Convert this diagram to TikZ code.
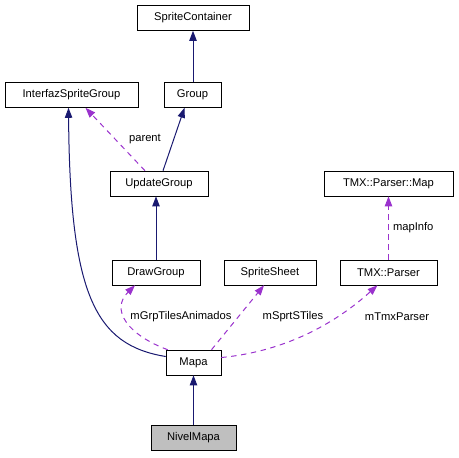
\documentclass[tikz,border=0pt]{standalone}
\usepackage{fontspec}
\setsansfont{Liberation Sans}
\usepackage{tikz}
\usetikzlibrary{arrows.meta,calc}

\definecolor{navyline}{HTML}{191970}
\definecolor{orchid}{HTML}{9A32CD}

\begin{document}
\begin{tikzpicture}[
  x=0.75pt, y=-0.75pt,
  cls/.style={draw, minimum height=18.75pt, inner sep=0pt,
    font=\sffamily\fontsize{8.4}{10}\selectfont},
  cur/.style={cls, fill=black!25},
  inh/.style={-{Triangle[length=7.5pt, width=5.5pt]}, color=navyline, line width=0.75pt},
  use/.style={-{Triangle[length=7.5pt, width=5.5pt]}, color=orchid,
    dash pattern=on 4pt off 3.5pt, line width=0.75pt},
  lbl/.style={font=\sffamily\fontsize{8.4}{10}\selectfont, text=black, inner sep=1pt},
]

\useasboundingbox (0,0) rectangle (459,457);

\node[cls, minimum width=84pt] (sc) at (193,18) {SpriteContainer};
\node[cls, minimum width=99.75pt] (isg) at (71.5,95) {InterfazSpriteGroup};
\node[cls, minimum width=42.75pt] (grp) at (192.5,95) {Group};
\node[cls, minimum width=73.5pt] (upd) at (159,183.5) {UpdateGroup};
\node[cls, minimum width=96.75pt] (pmap) at (388.5,183.5) {TMX::Parser::Map};
\node[cls, minimum width=66pt] (drw) at (156,272.5) {DrawGroup};
\node[cls, minimum width=69pt] (ss) at (270,272.5) {SpriteSheet};
\node[cls, minimum width=72.75pt] (prs) at (388.5,272.5) {TMX::Parser};
\node[cls, minimum width=41.25pt] (mapa) at (193.5,362.5) {Mapa};
\node[cur, minimum width=63.75pt] (nivel) at (193.5,437.5) {NivelMapa};

% inheritance
\draw[inh] (grp.north -| sc.south) -- (sc.south);
\draw[inh] ($(upd.north)+(4,0)$) -- ($(grp.south)+(-8,0)$);
\draw[inh] (drw.north) -- (drw.north |- upd.south);
\draw[inh] ($(mapa.west)+(0,-6)$) .. controls (95,345) and (70,295) .. ($(isg.south)+(-3,0)$);
\draw[inh] (nivel.north) -- (mapa.south);

% members
\draw[use] ($(upd.north)+(-14,0)$) -- ($(isg.south)+(14,0)$)
  node[lbl, pos=0.5, anchor=west, xshift=9pt] {parent};
\draw[use] ($(mapa.north west)+(2,0)$) .. controls (128,335) and (110,310) .. ($(drw.south)+(-21,0)$);
\draw[use] ($(mapa.north)+(18,0)$) -- ($(ss.south)+(-6,0)$);
\draw[use] ($(mapa.east)+(0,-5)$) .. controls (300,350) and (350,310) .. ($(prs.south)+(-11,0)$);
\draw[use] (prs.north) -- (pmap.south)
  node[lbl, pos=0.5, anchor=west, xshift=2pt] {mapInfo};

\node[lbl] (l1) at (181,317) {mGrpTilesAnimados};
\node[lbl] (l2) at (293,317) {mSprtSTiles};
\node[lbl] (l3) at (397,317) {mTmxParser};

\end{tikzpicture}
\end{document}
